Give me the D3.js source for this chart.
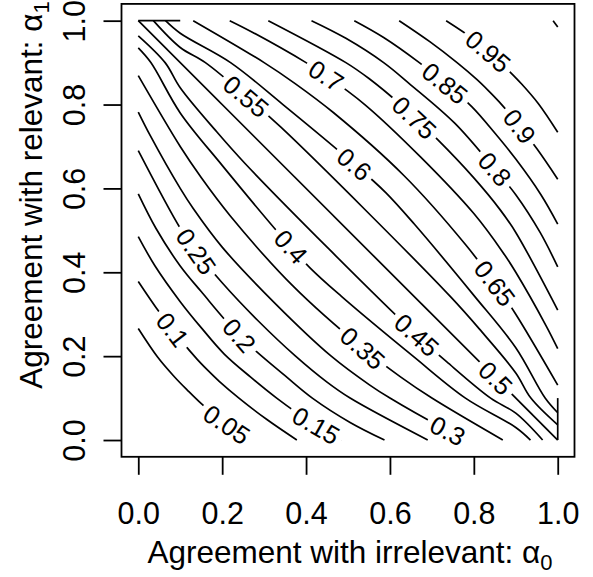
<!DOCTYPE html>
<html>
<head>
<meta charset="utf-8">
<script src="https://cdn.jsdelivr.net/npm/d3@7"></script>
<style>
  body { margin: 0; background: #fff; }
  text { font-family: "Liberation Sans", Arial, Helvetica, sans-serif; }
</style>
</head>
<body>
<svg id="chart" width="593" height="577"></svg>
<script>
// Contour levels of the agreement surface, each line as [alpha0, alpha1] points
const levels = [0.05, 0.1, 0.15, 0.2, 0.25, 0.3, 0.35, 0.4, 0.45, 0.5,
                0.55, 0.6, 0.65, 0.7, 0.75, 0.8, 0.85, 0.9, 0.95];

const lvl05 = [[0,0.266],[0.046,0.198],[0.086,0.151],[0.118,0.118],[0.151,0.086],[0.198,0.046],[0.266,0]];
const lvl10 = [[0,0.378],[0.05,0.305],[0.1,0.24],[0.14,0.193],[0.166,0.166],[0.193,0.14],[0.24,0.1],[0.305,0.05],[0.378,0]];
const lvl15 = [[0,0.485],[0.04,0.415],[0.1,0.33],[0.15,0.268],[0.205,0.205],[0.268,0.15],[0.33,0.1],[0.415,0.04],[0.485,0]];
const lvl20 = [[0,0.587],[0.042,0.505],[0.1,0.415],[0.15,0.354],[0.245,0.245],[0.354,0.15],[0.415,0.1],[0.505,0.042],[0.587,0]];
const lvl25 = [[0,0.69],[0.1,0.505],[0.138,0.45],[0.2,0.375],[0.285,0.285],[0.375,0.2],[0.45,0.138],[0.505,0.1],[0.69,0]];
const lvl30 = [[0,0.782],[0.028,0.727],[0.1,0.6],[0.131,0.552],[0.2,0.46],[0.326,0.326],[0.46,0.2],[0.552,0.131],[0.6,0.1],[0.727,0.028],[0.782,0]];
const lvl35 = [[0,0.869],[0.1,0.7],[0.15,0.626],[0.219,0.535],[0.368,0.368],[0.535,0.219],[0.626,0.15],[0.7,0.1],[0.869,0]];
const lvl40 = [[0,0.935],[0.03,0.9],[0.1,0.78],[0.2,0.655],[0.342,0.485],[0.41,0.41],[0.485,0.342],[0.655,0.2],[0.78,0.1],[0.9,0.03],[0.935,0]];
const lvl45 = [[0,0.964],[0.064,0.9],[0.1,0.84],[0.187,0.735],[0.254,0.66],[0.455,0.455],[0.66,0.254],[0.735,0.187],[0.84,0.1],[0.9,0.064],[0.964,0]];
const lvl50 = [[0,1],[1,0]];
const lvl50Top = [[0,1],[0.1,1]];
const lvl50Side = [[1,0],[1,0.1]];
const lvl55 = [[0.036,1],[0.1,0.936],[0.16,0.9],[0.265,0.813],[0.34,0.746],[0.545,0.545],[0.746,0.34],[0.813,0.265],[0.9,0.16],[0.936,0.1],[1,0.036]];
const lvl60 = [[0.065,1],[0.1,0.97],[0.22,0.9],[0.345,0.8],[0.515,0.658],[0.59,0.59],[0.658,0.515],[0.8,0.345],[0.9,0.22],[0.97,0.1],[1,0.065]];
const lvl65 = [[0.131,1],[0.3,0.9],[0.374,0.85],[0.465,0.781],[0.632,0.632],[0.781,0.465],[0.85,0.374],[0.9,0.3],[1,0.131]];
const lvl70 = [[0.218,1],[0.273,0.972],[0.4,0.9],[0.448,0.869],[0.54,0.8],[0.674,0.674],[0.8,0.54],[0.869,0.448],[0.9,0.4],[0.972,0.273],[1,0.218]];
const lvl75 = [[0.31,1],[0.495,0.9],[0.55,0.862],[0.625,0.8],[0.715,0.715],[0.8,0.625],[0.862,0.55],[0.9,0.495],[1,0.31]];
const lvl80 = [[0.413,1],[0.495,0.958],[0.585,0.9],[0.646,0.85],[0.755,0.755],[0.85,0.646],[0.9,0.585],[0.958,0.495],[1,0.413]];
const lvl85 = [[0.515,1],[0.585,0.96],[0.67,0.9],[0.732,0.85],[0.795,0.795],[0.85,0.732],[0.9,0.67],[0.96,0.585],[1,0.515]];
const lvl90 = [[0.622,1],[0.695,0.95],[0.76,0.9],[0.807,0.86],[0.834,0.834],[0.86,0.807],[0.9,0.76],[0.95,0.695],[1,0.622]];
const lvl95 = [[0.734,1],[0.802,0.954],[0.849,0.914],[0.882,0.882],[0.914,0.849],[0.954,0.802],[1,0.734]];
const lvl95Corner = [[0.989,1],[1,0.985]];

// alpha0 at which each level's label sits
const labelAlpha0 = [0.211, 0.082, 0.424, 0.241, 0.138, 0.738, 0.535, 0.364, 0.664, 0.852,
                     0.257, 0.515, 0.85, 0.448, 0.658, 0.85, 0.731, 0.909, 0.834];

const tickValues = [0, 0.2, 0.4, 0.6, 0.8, 1.0];

const contourSets = [
  [lvl05], [lvl10], [lvl15], [lvl20], [lvl25], [lvl30], [lvl35], [lvl40], [lvl45],
  [lvl50, lvl50Top, lvl50Side],
  [lvl55], [lvl60], [lvl65], [lvl70], [lvl75], [lvl80], [lvl85], [lvl90],
  [lvl95, lvl95Corner]
];

const W = 593, H = 577;
const svg = d3.select("#chart");
svg.append("rect").attr("width", W).attr("height", H).attr("fill", "#fff");

const x = d3.scaleLinear().domain([-0.04, 1.04]).range([121.5, 574.5]);
const y = d3.scaleLinear().domain([-0.04, 1.04]).range([456.8, 3.9]);

const line = d3.line()
  .x(d => x(d[0])).y(d => y(d[1]))
  .curve(d3.curveCatmullRom.alpha(0.5));

const defs = svg.append("defs");
const labelSize = 25.5;
const fontStack = '"Liberation Sans", Arial, Helvetica, sans-serif';

// point and direction on a polyline at a given alpha0
function placeOn(pts, a0) {
  for (let i = 0; i < pts.length - 1; i++) {
    const p = pts[i], q = pts[i + 1];
    const lo = Math.min(p[0], q[0]), hi = Math.max(p[0], q[0]);
    if (a0 >= lo && a0 <= hi && hi > lo) {
      const t = (a0 - p[0]) / (q[0] - p[0]);
      const px = x(p[0] + t * (q[0] - p[0])), py = y(p[1] + t * (q[1] - p[1]));
      let ang = Math.atan2(y(q[1]) - y(p[1]), x(q[0]) - x(p[0])) * 180 / Math.PI;
      if (ang > 90) ang -= 180;
      if (ang < -90) ang += 180;
      return { px, py, ang };
    }
  }
  return null;
}

const layer = svg.append("g");

contourSets.forEach((pieces, i) => {
  const lev = levels[i];
  const txt = String(lev);
  const pos = placeOn(pieces[0], labelAlpha0[i]);

  // measure label width
  const probe = svg.append("text").attr("font-size", labelSize)
    .style("font-family", fontStack).text(txt);
  const tw = probe.node().getComputedTextLength();
  probe.remove();

  const mask = defs.append("mask").attr("id", "gap" + i)
    .attr("maskUnits", "userSpaceOnUse")
    .attr("x", 0).attr("y", 0).attr("width", W).attr("height", H);
  mask.append("rect").attr("width", W).attr("height", H).attr("fill", "#fff");
  mask.append("rect")
    .attr("x", -tw / 2 - 5).attr("y", -11).attr("width", tw + 10).attr("height", 22)
    .attr("fill", "#000")
    .attr("transform", `translate(${pos.px},${pos.py}) rotate(${pos.ang})`);

  const g = layer.append("g").attr("mask", `url(#gap${i})`);
  pieces.forEach(pts => {
    g.append("path").attr("d", line(pts))
      .attr("fill", "none").attr("stroke", "#000")
      .attr("stroke-width", 1.7).attr("stroke-linejoin", "round");
  });

  layer.append("text")
    .attr("transform", `translate(${pos.px},${pos.py}) rotate(${pos.ang})`)
    .attr("text-anchor", "middle").attr("dy", "0.36em")
    .attr("font-size", labelSize).attr("fill", "#000")
    .style("font-family", fontStack)
    .text(txt);
});

// plot frame
svg.append("rect")
  .attr("x", x.range()[0]).attr("y", y.range()[1])
  .attr("width", x.range()[1] - x.range()[0])
  .attr("height", y.range()[0] - y.range()[1])
  .attr("fill", "none").attr("stroke", "#000").attr("stroke-width", 1.8);

const fmt = d3.format(".1f");
const axisFont = 30.5;

const gx = svg.append("g")
  .attr("transform", `translate(0,${y.range()[0]})`)
  .call(d3.axisBottom(x).tickValues(tickValues).tickSize(18).tickFormat(fmt));
gx.select(".domain").remove();
gx.selectAll(".tick line").attr("stroke", "#000").attr("stroke-width", 1.8);
gx.selectAll(".tick text")
  .attr("y", 67).attr("dy", null)
  .attr("fill", "#000").attr("font-size", axisFont)
  .style("font-family", fontStack);

const gy = svg.append("g")
  .attr("transform", `translate(${x.range()[0]},0)`)
  .call(d3.axisLeft(y).tickValues(tickValues).tickSize(18).tickFormat(fmt));
gy.select(".domain").remove();
gy.selectAll(".tick line").attr("stroke", "#000").attr("stroke-width", 1.8);
gy.selectAll(".tick text")
  .attr("x", null).attr("dy", null)
  .attr("transform", "translate(-37,0) rotate(-90)")
  .attr("text-anchor", "middle")
  .attr("fill", "#000").attr("font-size", axisFont)
  .style("font-family", fontStack);

// axis titles
const xt = svg.append("text")
  .attr("x", 350).attr("y", 563)
  .attr("text-anchor", "middle").attr("font-size", 31.5).attr("fill", "#000")
  .style("font-family", fontStack);
xt.append("tspan").text("Agreement with irrelevant: α");
xt.append("tspan").attr("font-size", 22).attr("dy", 7).text("0");

const yt = svg.append("text")
  .attr("transform", "translate(42,195) rotate(-90)")
  .attr("text-anchor", "middle").attr("font-size", 31.5).attr("fill", "#000")
  .style("font-family", fontStack);
yt.append("tspan").text("Agreement with relevant: α");
yt.append("tspan").attr("font-size", 22).attr("dy", 7).text("1");
</script>
</body>
</html>
